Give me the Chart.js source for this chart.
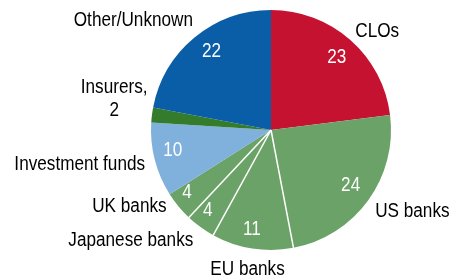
<!DOCTYPE html>
<html>
<head>
<meta charset="utf-8">
<style>
  html, body { margin: 0; padding: 0; background: #fff; }
  #wrap { width: 450px; height: 277px; }
</style>
<script src="https://cdn.jsdelivr.net/npm/chart.js@4/dist/chart.umd.min.js"></script>
</head>
<body>
<div id="wrap"><canvas id="chart" width="450" height="277"></canvas></div>
<script>
// holders of the loans, share in per cent
const categories = ['CLOs', 'US banks', 'EU banks', 'Japanese banks', 'UK banks', 'Investment funds', 'Insurers', 'Other/Unknown'];
const shares = [23, 24, 11, 4, 4, 10, 2, 22];
const outsideLabels = ['CLOs', 'US banks', 'EU banks', 'Japanese banks', 'UK banks', 'Investment funds', ['Insurers,', '2'], 'Other/Unknown'];
const insideLabels = ['23', '24', '11', '4', '4', '10', '', '22'];

const sliceColors = ['#c41230', '#6aa268', '#6aa268', '#6aa268', '#6aa268', '#7fb1dc', '#347c2c', '#0a5ea8'];
const FONT = '"Liberation Sans Narrow", "Arial Narrow", "Liberation Sans", sans-serif';
const SQUEEZE = 0.88; // no condensed face installed, so narrow the text by hand

// nudges (px) for the hand placed labels in the original
const insideNudge = [[1.5, 1], [1, -2], [-4, 4], [-6, 2], [-9, 1], [-4, -3.5], [0, 0], [2.5, -3]];
const outsideNudge = [[7, 14.5], [20, -7], [0, -9], [-52, -11], [-26, -19], [-46, -3], [-8, -12], [-42, 6]];

function narrowText(ctx, text, x, y) {
    ctx.save();
    ctx.translate(x, y);
    ctx.scale(SQUEEZE, 1);
    ctx.fillText(text, 0, 0);
    ctx.restore();
}

const pieLabels = {
    id: 'pieLabels',
    afterDatasetsDraw(chart) {
        const ctx = chart.ctx;
        const arcs = chart.getDatasetMeta(0).data;
        ctx.save();

        // white separators between the bank slices only
        ctx.strokeStyle = '#fff';
        ctx.lineWidth = 1.5;
        [2, 3, 4].forEach((i) => {
            const a = arcs[i].getProps(['x', 'y', 'startAngle', 'outerRadius'], true);
            ctx.beginPath();
            ctx.moveTo(a.x, a.y);
            ctx.lineTo(a.x + Math.cos(a.startAngle) * (a.outerRadius + 1), a.y + Math.sin(a.startAngle) * (a.outerRadius + 1));
            ctx.stroke();
        });

        ctx.font = '19.5px ' + FONT;
        ctx.textAlign = 'center';
        ctx.textBaseline = 'middle';
        arcs.forEach((arc, i) => {
            const a = arc.getProps(['x', 'y', 'startAngle', 'endAngle', 'outerRadius'], true);
            const mid = (a.startAngle + a.endAngle) / 2;

            // value inside the slice
            if (insideLabels[i]) {
                const r = a.outerRadius * 0.81;
                ctx.fillStyle = '#fff';
                narrowText(ctx, insideLabels[i], a.x + Math.cos(mid) * r + insideNudge[i][0], a.y + Math.sin(mid) * r + insideNudge[i][1]);
            }

            // category name outside
            const ro = a.outerRadius + 30;
            const lx = a.x + Math.cos(mid) * ro + outsideNudge[i][0];
            const ly = a.y + Math.sin(mid) * ro + outsideNudge[i][1];
            const lines = [].concat(outsideLabels[i]);
            const lh = 23.5;
            ctx.fillStyle = '#000';
            lines.forEach((t, k) => {
                narrowText(ctx, t, lx, ly + (k - (lines.length - 1) / 2) * lh);
            });
        });
        ctx.restore();
    }
};

new Chart(document.getElementById('chart'), {
    type: 'pie',
    data: {
        labels: categories,
        datasets: [{
            data: shares,
            backgroundColor: sliceColors,
            borderWidth: 0,
            hoverOffset: 0,
        }],
    },
    options: {
        responsive: false,
        animation: false,
        layout: { padding: { top: 10, bottom: 27, left: 151, right: 59 } },
        plugins: {
            legend: { display: false },
            tooltip: { enabled: false },
        },
    },
    plugins: [pieLabels],
});
</script>
</body>
</html>
